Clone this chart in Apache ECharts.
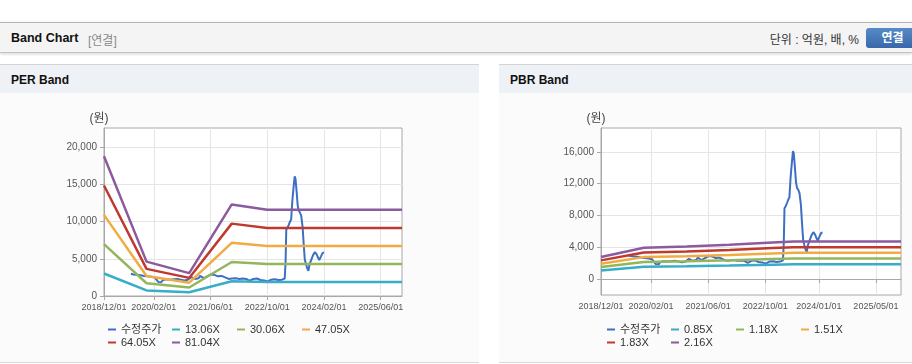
<!DOCTYPE html>
<html>
<head>
<meta charset="utf-8">
<script src="https://cdn.jsdelivr.net/npm/echarts@6/dist/echarts.min.js"></script>
<style>
  html, body { margin: 0; padding: 0; width: 912px; height: 364px; overflow: hidden; background: #fff;
    font-family: Arial, "Liberation Sans", "Noto Sans CJK KR", sans-serif; }
  .top { position: absolute; left: 0; top: 22px; width: 912px; height: 29px; background: #f4f4f4;
    border-top: 1px solid #b4b4b4; border-bottom: 1px solid #c4c4c4; box-shadow: 0 1px 3px rgba(0,0,0,0.18); }
  .top .title { position: absolute; left: 11px; top: 8px; font-size: 12.5px; font-weight: bold; color: #111; }
  .top .sub { position: absolute; left: 88px; top: 8px; font-size: 12px; color: #8a8a8a; }
  .top .unit { position: absolute; right: 53px; top: 7px; font-size: 12px; color: #333; }
  .top .btn { position: absolute; left: 866px; top: 5px; width: 53px; height: 20px; border-radius: 3px;
    background: linear-gradient(#568ac8, #3868ab); color: #fff; font-weight: bold; font-size: 12px;
    text-align: center; line-height: 20px; }
  .panel { position: absolute; top: 64px; height: 297px; background: #fbfbfb;
    border-top: 1px solid #d4d4d4; border-bottom: 1px solid #d8d8d8; }
  .panel .head { height: 28px; background: #eef1f6; font-size: 12px; font-weight: bold; color: #111;
    line-height: 30px; padding-left: 11px; }
  #chart { position: absolute; left: 0; top: 0; width: 912px; height: 364px; }
</style>
</head>
<body>
<div class="top">
  <span class="title">Band Chart</span>
  <span class="sub">[연결]</span>
  <span class="unit">단위 : 억원, 배, %</span>
  <span class="btn">연결</span>
</div>
<div class="panel" style="left:0;width:479px"><div class="head">PER Band</div></div>
<div class="panel" style="left:499px;width:413px"><div class="head">PBR Band</div></div>
<div id="chart"></div>
<script>
// PER band (price = multiple x EPS)
const perBandDates = ['2018-12-01', '2019-12-01', '2020-12-01', '2021-12-01', '2022-10-01', '2025-12-01'];
const per1306 = [3030, 745, 500, 1985, 1870, 1870];
const per3006 = [6975, 1715, 1145, 4570, 4300, 4300];
const per4705 = [10915, 2680, 1790, 7150, 6730, 6730];
const per6405 = [14860, 3650, 2435, 9735, 9160, 9160];
const per8104 = [18800, 4620, 3080, 12320, 11590, 11590];
const perNames = ['13.06X', '30.06X', '47.05X', '64.05X', '81.04X'];

// PBR band
const pbrBandDates = ['2018-12-01', '2019-12-01', '2020-12-01', '2021-12-01', '2022-12-01', '2023-06-01', '2025-12-01'];
const pbr085 = [1092, 1556, 1615, 1700, 1811, 1862, 1862];
const pbr118 = [1516, 2159, 2242, 2360, 2513, 2584, 2584];
const pbr151 = [1940, 2763, 2869, 3020, 3216, 3307, 3307];
const pbr183 = [2352, 3349, 3477, 3660, 3898, 4008, 4008];
const pbr216 = [2776, 3953, 4104, 4320, 4601, 4730, 4730];
const pbrNames = ['0.85X', '1.18X', '1.51X', '1.83X', '2.16X'];

// adjusted price (수정주가)
const priceDates = [
  '2019-07-20', '2019-08-10', '2019-08-25', '2019-09-10', '2019-09-25', '2019-10-10', '2019-10-25', '2019-11-10',
  '2019-11-25', '2019-12-10', '2019-12-25', '2020-01-10', '2020-01-25', '2020-02-10', '2020-02-25', '2020-03-10',
  '2020-03-20', '2020-04-05', '2020-04-20', '2020-05-05', '2020-05-20', '2020-06-05', '2020-06-20', '2020-07-05',
  '2020-07-20', '2020-08-05', '2020-08-20', '2020-09-05', '2020-09-20', '2020-10-05', '2020-10-20', '2020-11-05',
  '2020-11-20', '2020-12-05', '2020-12-20', '2021-01-05', '2021-01-20', '2021-02-05', '2021-02-20', '2021-03-05',
  '2021-03-20', '2021-04-05', '2021-04-20', '2021-05-05', '2021-05-20', '2021-06-05', '2021-06-20', '2021-07-05',
  '2021-07-20', '2021-08-05', '2021-08-20', '2021-09-05', '2021-09-20', '2021-10-05', '2021-10-20', '2021-11-05',
  '2021-11-20', '2021-12-05', '2021-12-20', '2022-01-05', '2022-01-20', '2022-02-05', '2022-02-20', '2022-03-05',
  '2022-03-20', '2022-04-05', '2022-04-20', '2022-05-05', '2022-05-20', '2022-06-05', '2022-06-20', '2022-07-05',
  '2022-07-20', '2022-08-05', '2022-08-20', '2022-09-05', '2022-09-20', '2022-10-05', '2022-10-20', '2022-11-05',
  '2022-11-20', '2022-12-05', '2022-12-20', '2023-01-05', '2023-01-20', '2023-02-05', '2023-02-20', '2023-03-01',
  '2023-03-08', '2023-03-14', '2023-03-25', '2023-04-05', '2023-04-15', '2023-04-25', '2023-05-05', '2023-05-15',
  '2023-05-25', '2023-06-01', '2023-06-10', '2023-06-20', '2023-06-28', '2023-07-10', '2023-07-20', '2023-08-01',
  '2023-08-10', '2023-08-20', '2023-08-30', '2023-09-10', '2023-09-20', '2023-09-30', '2023-10-15', '2023-10-30',
  '2023-11-15', '2023-11-30', '2023-12-10', '2023-12-22', '2024-01-05', '2024-01-20', '2024-02-01'
];
const priceValues = [
  3000, 2900, 3050, 2850, 2950, 2800, 2900, 2700,
  2800, 2650, 2750, 2600, 2700, 2500, 2350, 1900,
  1650, 1850, 2150, 2400, 2250, 2350, 2200, 2400,
  2250, 2150, 2300, 2100, 2200, 2000, 2100, 1950,
  2200, 2300, 2550, 2450, 2300, 2250, 2400, 2700,
  2600, 2400, 2500, 2650, 2800, 2900, 2750, 2850,
  2700, 2650, 2750, 2700, 2600, 2500, 2400, 2300,
  2250, 2350, 2300, 2400, 2350, 2300, 2400, 2350,
  2450, 2300, 2150, 2050, 2200, 2300, 2200, 2350,
  2250, 2150, 2050, 2100, 2050, 1950, 2050, 2200,
  2150, 2250, 2200, 2150, 2100, 2200, 2250, 2350,
  4600, 8900, 9200, 9600, 10000, 10300, 12800, 14500,
  16100, 15800, 14200, 12200, 11500, 11200, 10800, 9300,
  7100, 4900, 4300, 3700, 3400, 4300, 4900, 5500,
  5900, 5600, 5200, 4850, 5300, 5800, 5850
];

const xStart = '2018-12-01';
const xEnd = '2025-12-01';
const perXTicks = ['2018-12-01', '2020-02-01', '2021-06-01', '2022-10-01', '2024-02-01', '2025-06-01'];
const pbrXTicks = ['2018-12-01', '2020-02-01', '2021-06-01', '2022-10-01', '2024-01-01', '2025-05-01'];
const perYTicks = [0, 5000, 10000, 15000, 20000];
const pbrYTicks = [0, 4000, 8000, 12000, 16000];
const priceName = '수정주가';

const font = 'Arial, "Liberation Sans", "Noto Sans CJK KR", sans-serif';
const priceColor = '#3d6fc5';
const bandColors = ['#38adc7', '#94b65a', '#f2aa42', '#c0392e', '#8c5a9f'];
const axisGray = '#a8a8a8';
const gridGray = '#e5e5e5';
const labelColor = '#555';

// dates go on a numeric axis as UTC timestamps
const ts = d => Date.parse(d);
const pairs = (dates, vals) => dates.map((d, i) => [ts(d), vals[i]]);
const fmtDate = v => echarts.time.format(v, '{yyyy}/{MM}/{dd}', true);

function xAxis(gi, ticks) {
  const tv = ticks.map(ts);
  return {
    type: 'value', gridIndex: gi, min: ts(xStart), max: ts(xEnd),
    axisLine: { show: true, lineStyle: { color: axisGray } },
    axisTick: { show: true, length: 4, customValues: tv, lineStyle: { color: axisGray } },
    axisLabel: { customValues: tv, formatter: fmtDate, fontSize: 9, color: labelColor,
      margin: 7, fontFamily: font, hideOverlap: false },
    splitLine: { show: true, lineStyle: { color: gridGray } }
  };
}

function yAxis(gi, min, max, ticks) {
  return {
    type: 'value', gridIndex: gi, min: min, max: max,
    name: '(원)', nameLocation: 'end', nameGap: 3,
    nameTextStyle: { fontSize: 12, color: '#444', fontFamily: font, align: 'center', padding: [0, 10, 0, 0] },
    axisLine: { show: true, lineStyle: { color: axisGray } },
    axisTick: { show: true, length: 4, customValues: ticks, lineStyle: { color: axisGray } },
    axisLabel: { customValues: ticks, fontSize: 10, color: labelColor, margin: 7, fontFamily: font },
    splitLine: { show: true, lineStyle: { color: gridGray } }
  };
}

function line(name, data, color, gi, width) {
  return {
    type: 'line', name: name, data: data, xAxisIndex: gi, yAxisIndex: gi,
    showSymbol: false, symbol: 'none', smooth: false,
    lineStyle: { color: color, width: width }, itemStyle: { color: color },
    emphasis: { disabled: true }
  };
}

const perBands = [per1306, per3006, per4705, per6405, per8104];
const pbrBands = [pbr085, pbr118, pbr151, pbr183, pbr216];

const series = [];
series.push(line(priceName, pairs(priceDates, priceValues), priceColor, 0, 2));
perBands.forEach((b, i) => series.push(line(perNames[i], pairs(perBandDates, b), bandColors[i], 0, 2.5)));
series.push(line(priceName, pairs(priceDates, priceValues), priceColor, 1, 2));
pbrBands.forEach((b, i) => series.push(line(pbrNames[i], pairs(pbrBandDates, b), bandColors[i], 1, 2.5)));

// one legend per item so they sit in fixed columns
function legendItem(name, left, top) {
  return {
    data: [name], left: left, top: top, padding: 0, icon: 'rect', itemWidth: 8, itemHeight: 2,
    textStyle: { fontSize: 11, color: '#333', fontFamily: font }
  };
}
const colsL = [108, 172, 237, 302];
const colsR = [607, 671, 736, 801];
const rows = [324, 337];
const perLegendNames = [priceName].concat(perNames);
const pbrLegendNames = [priceName].concat(pbrNames);
const legends = [];
perLegendNames.forEach((n, i) => legends.push(legendItem(n, colsL[i % 4], rows[Math.floor(i / 4)])));
pbrLegendNames.forEach((n, i) => legends.push(legendItem(n, colsR[i % 4], rows[Math.floor(i / 4)])));

const chart = echarts.init(document.getElementById('chart'));
chart.setOption({
  animation: false,
  backgroundColor: 'transparent',
  textStyle: { fontFamily: font },
  grid: [
    { left: 104, top: 128, width: 298, height: 168, show: true, borderColor: axisGray, backgroundColor: '#fff' },
    { left: 601, top: 128, width: 300, height: 167, show: true, borderColor: axisGray, backgroundColor: '#fff' }
  ],
  xAxis: [xAxis(0, perXTicks), xAxis(1, pbrXTicks)],
  yAxis: [yAxis(0, 0, 22600, perYTicks), yAxis(1, -2000, 19000, pbrYTicks)],
  legend: legends,
  series: series
});
</script>
</body>
</html>
